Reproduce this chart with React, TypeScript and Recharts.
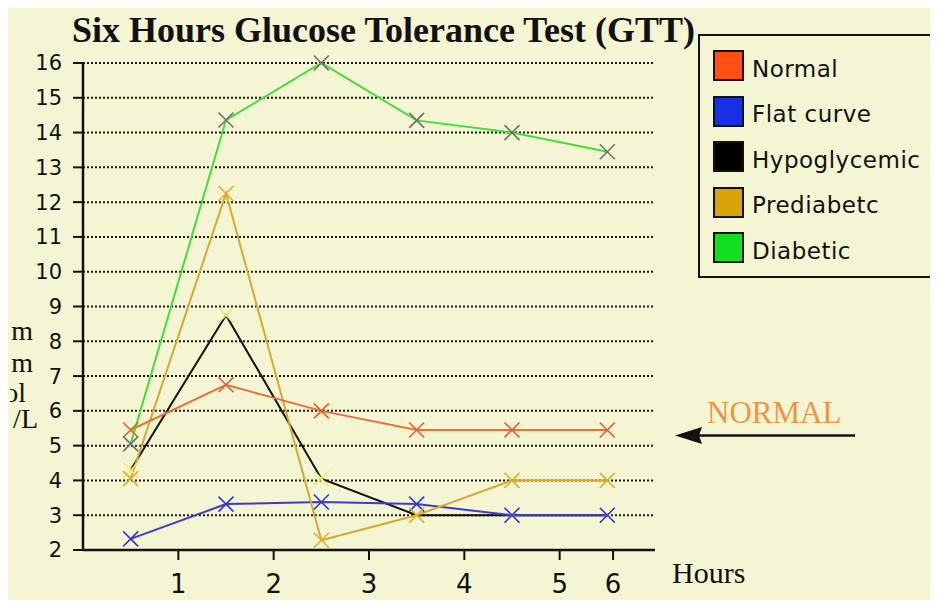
import React from 'react';
import { LineChart, Line, XAxis, YAxis, CartesianGrid, Legend } from 'recharts';

// ---- data ----
const hours = [0.5, 1.5, 2.5, 3.5, 4.5, 5.5];
const normal = [5.45, 6.75, 6.0, 5.45, 5.45, 5.45];
const flatCurve = [2.32, 3.32, 3.38, 3.32, 3.0, 3.0];
const hypoglycemic = [4.3, 8.75, 4.05, 3.0, 3.0, 3.0];
const prediabetic = [4.05, 12.25, 2.28, 3.0, 4.0, 4.0];
const diabetic = [5.05, 14.36, 16.0, 14.35, 14.0, 13.45];

const yTicks = [2, 3, 4, 5, 6, 7, 8, 9, 10, 11, 12, 13, 14, 15, 16];
const xTickValues = [1, 2, 3, 4, 5, 5.56];
const xTickLabels = ['1', '2', '3', '4', '5', '6'];

const titleText = 'Six Hours Glucose Tolerance Test (GTT)';
const yLabelLines = ['m', 'm', 'ol', '/L'];
const xLabelText = 'Hours';
const noteText = 'NORMAL';

type SeriesDef = {
  key: string;
  name: string;
  values: number[];
  line: string;
  mark: string;
  swatch: string;
};

const seriesDefs: SeriesDef[] = [
  { key: 'normal', name: 'Normal', values: normal, line: '#e27240', mark: '#f05a22', swatch: '#ff4f12' },
  { key: 'flat', name: 'Flat curve', values: flatCurve, line: '#3c3cc8', mark: '#2f36e0', swatch: '#1530e6' },
  { key: 'hypo', name: 'Hypoglycemic', values: hypoglycemic, line: '#111111', mark: '#f2e868', swatch: '#000000' },
  { key: 'pre', name: 'Prediabetc', values: prediabetic, line: '#d8a830', mark: '#e0b02a', swatch: '#d9a408' },
  { key: 'dia', name: 'Diabetic', values: diabetic, line: '#44dd3c', mark: '#707070', swatch: '#12e01e' },
];

const drawOrder = ['hypo', 'flat', 'pre', 'normal', 'dia'];

const data = hours.map((h, i) => {
  const row: Record<string, number> = { hour: h };
  seriesDefs.forEach((s) => {
    row[s.key] = s.values[i];
  });
  return row;
});

const makeDot = (color: string) => (props: any) => {
  const { cx, cy, index } = props;
  if (cx == null || cy == null) return <g key={`e${index}`} />;
  const s = 7.5;
  return (
    <path
      key={`d${index}`}
      d={`M${cx - s},${cy - s}L${cx + s},${cy + s}M${cx - s},${cy + s}L${cx + s},${cy - s}`}
      stroke={color}
      strokeWidth={1.6}
      fill="none"
    />
  );
};

const renderLegend = () => (
  <div
    style={{
      boxSizing: 'border-box',
      width: 235,
      height: 244,
      border: '2px solid #111',
      position: 'relative',
      fontFamily: '"DejaVu Sans", sans-serif',
      fontSize: 23,
      color: '#111',
    }}
  >
    {seriesDefs.map((s, i) => (
      <div
        key={s.key}
        style={{
          position: 'absolute',
          left: 13,
          top: 14 + i * 45.5,
          display: 'flex',
          alignItems: 'center',
          height: 31,
        }}
      >
        <div
          style={{
            boxSizing: 'border-box',
            width: 31,
            height: 31,
            background: s.swatch,
            border: '2px solid #111',
          }}
        />
        <span style={{ marginLeft: 8, letterSpacing: 0.5, whiteSpace: 'nowrap', position: 'relative', top: 3 }}>
          {s.name}
        </span>
      </div>
    ))}
  </div>
);

const W = 932;
const H = 593;

export default function App() {
  return (
    <div style={{ marginLeft: -3, marginTop: -1 }}>
      <div style={{ position: 'relative', width: W, height: H, background: '#f4f5d3', overflow: 'hidden' }}>
        <LineChart
          width={W}
          height={H}
          data={data}
          margin={{ top: 56, right: 282, bottom: 10, left: 0 }}
        >
          <CartesianGrid
            horizontal={true}
            vertical={false}
            stroke="#1a1a1a"
            strokeWidth={2}
            strokeDasharray="2 2"
          />
          <XAxis
            dataKey="hour"
            type="number"
            domain={[0, 6]}
            ticks={xTickValues}
            tickFormatter={(v: number) => xTickLabels[xTickValues.indexOf(v)] ?? ''}
            axisLine={{ stroke: '#111', strokeWidth: 2.5 }}
            tickLine={{ stroke: '#111', strokeWidth: 2 }}
            tickSize={10}
            tickMargin={15}
            height={40}
            allowDataOverflow
            tick={{ fill: '#111', fontSize: 26, fontFamily: '"DejaVu Sans", sans-serif' }}
          />
          <YAxis
            type="number"
            domain={[2, 16]}
            ticks={yTicks}
            interval={0}
            width={78}
            axisLine={{ stroke: '#111', strokeWidth: 2.5 }}
            tickLine={{ stroke: '#111', strokeWidth: 2 }}
            tickSize={10}
            tickMargin={11}
            tick={{ fill: '#111', fontSize: 21, fontFamily: '"DejaVu Sans", sans-serif' }}
          />
          <Legend
            layout="vertical"
            align="center"
            verticalAlign="middle"
            content={renderLegend}
            wrapperStyle={{ position: 'absolute', left: 693, top: 27, width: 235, height: 244 }}
          />
          {drawOrder.map((k) => {
            const s = seriesDefs.find((d) => d.key === k)!;
            return (
              <Line
                key={s.key}
                dataKey={s.key}
                name={s.name}
                type="linear"
                stroke={s.line}
                strokeWidth={2}
                dot={makeDot(s.mark)}
                activeDot={false}
                isAnimationActive={false}
                legendType="square"
              />
            );
          })}
        </LineChart>
        <svg
          width={W}
          height={H}
          style={{ position: 'absolute', left: 0, top: 0, pointerEvents: 'none' }}
        >
          <defs>
            <clipPath id="ylabclip">
              <rect x={5} y={0} width={100} height={H} />
            </clipPath>
          </defs>
          <text
            x={67}
            y={35}
            fontFamily='"Liberation Serif", "Times New Roman", serif'
            fontWeight="bold"
            fontSize={36}
            fill="#111"
          >
            {titleText}
          </text>
          <g clipPath="url(#ylabclip)" fontFamily='"Liberation Serif", serif' fontSize={28} fill="#111">
            <text x={28} y={333} textAnchor="end">{yLabelLines[0]}</text>
            <text x={28} y={365} textAnchor="end">{yLabelLines[1]}</text>
            <text x={21} y={395} textAnchor="end">{yLabelLines[2]}</text>
            <text x={33} y={421} textAnchor="end">{yLabelLines[3]}</text>
          </g>
          <text x={667} y={576} fontFamily='"Liberation Serif", serif' fontSize={30} fill="#111">
            {xLabelText}
          </text>
          <text x={702} y={416} fontFamily='"Liberation Serif", serif' fontSize={31} fill="#eb9646">
            {noteText}
          </text>
          <line x1={850} y1={428.5} x2={692} y2={428.5} stroke="#111" strokeWidth={2.5} />
          <polygon points="670,428.5 697,420 694,428.5 697,437" fill="#111" />
        </svg>
      </div>
    </div>
  );
}
